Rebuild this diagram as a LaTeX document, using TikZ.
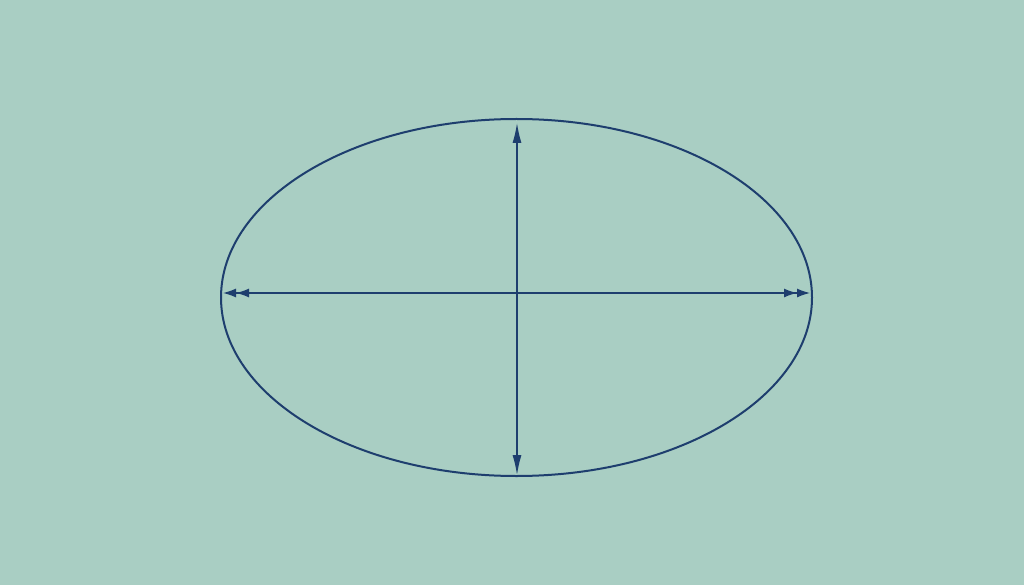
\documentclass[tikz,border=0pt]{standalone}
\usetikzlibrary{arrows.meta}
\definecolor{bgc}{RGB}{169,206,195}
\definecolor{ink}{RGB}{30,62,110}
\tikzset{
  axis/.style={draw=ink, line width=1.3pt},
  hax/.style={axis, {Latex[length=13pt,width=9pt]Latex[length=13pt,width=9pt]}-{Latex[length=13pt,width=9pt]Latex[length=13pt,width=9pt]}},
  vax/.style={axis, {Latex[length=20pt,width=9pt]}-{Latex[length=20pt,width=9pt]}},
  outline/.style={draw=ink, line width=2pt}
}
\begin{document}
\begin{tikzpicture}[x=1pt,y=-1pt]
\fill[bgc] (0,0) rectangle (1024,585);
\useasboundingbox (0,0) rectangle (1024,585);
\coordinate (c) at (516.5,297.5);
\draw[outline] (c) ellipse [x radius=295.5, y radius=178.5];
\coordinate (L) at (223,293);
\coordinate (R) at (810,293);
\coordinate (T) at (517,123);
\coordinate (B) at (517,475);
\draw[hax] (L) -- (R);
\draw[vax] (T) -- (B);
\end{tikzpicture}
\end{document}
